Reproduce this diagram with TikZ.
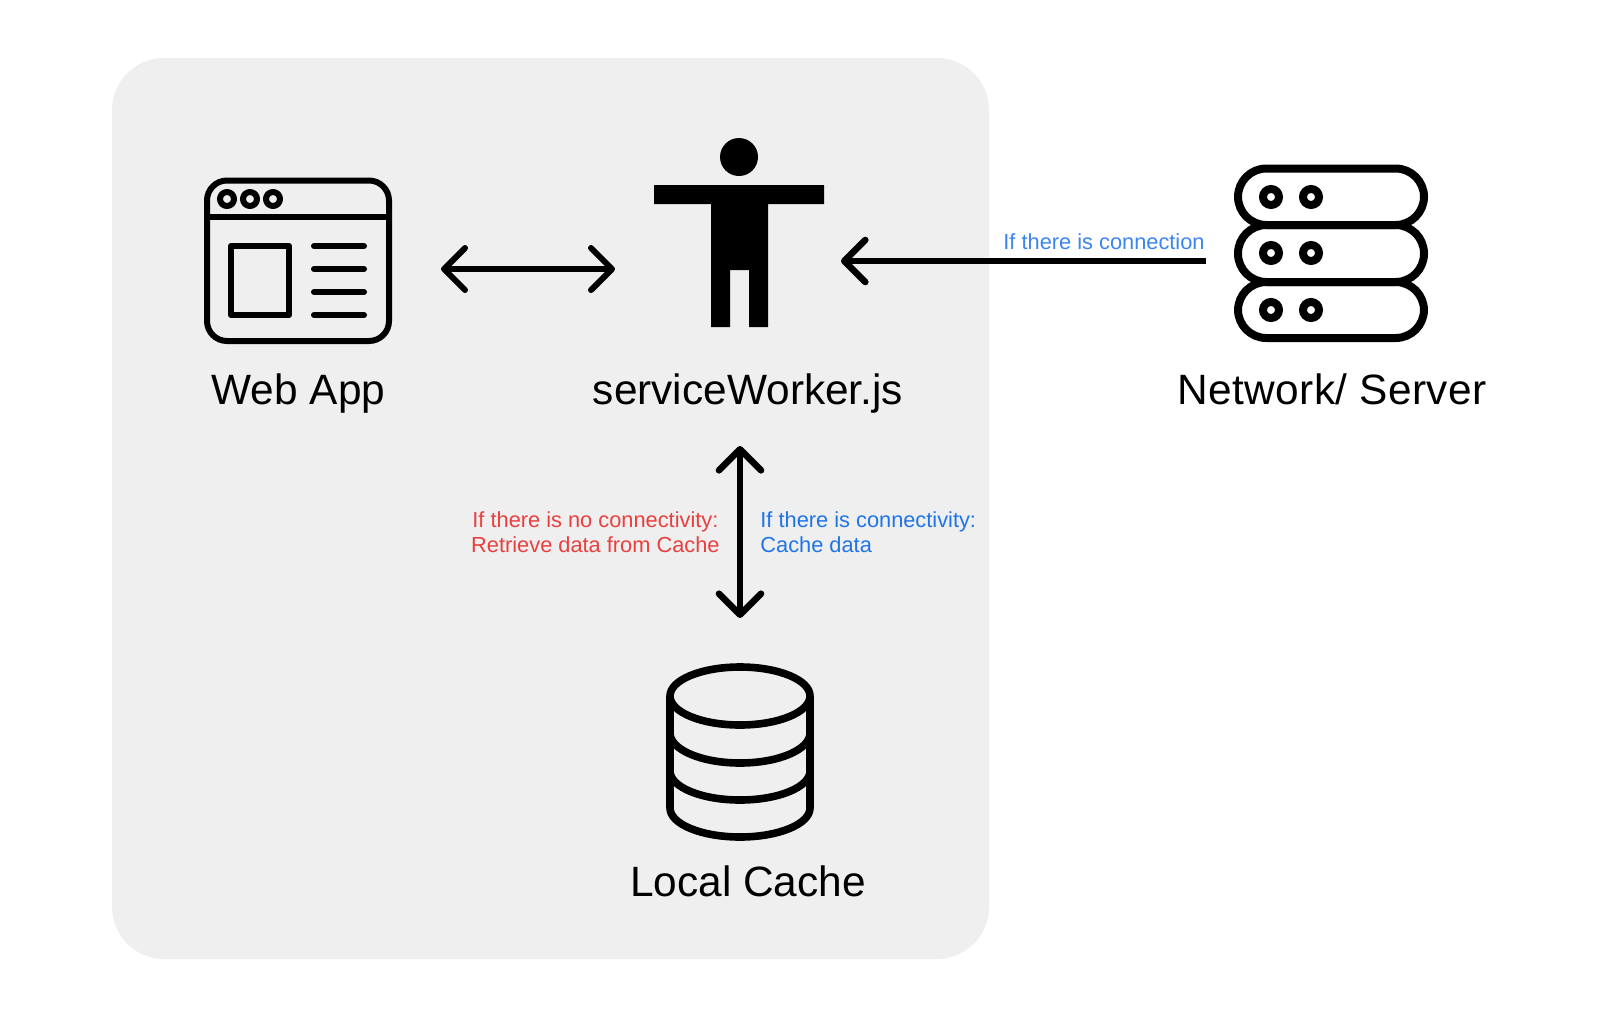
\documentclass[tikz,border=0pt]{standalone}
\usepackage{fontspec}
\setmainfont{Liberation Sans}
\usetikzlibrary{arrows.meta}
\definecolor{panelgrey}{HTML}{EFEFEF}
\definecolor{linkblue}{HTML}{3B86EE}
\definecolor{okblue}{HTML}{1F74E8}
\definecolor{nored}{HTML}{E8403F}
\tikzset{
  x=0.5pt,y=-0.5pt,
  panel/.style={fill=panelgrey,draw=none,rounded corners=26pt},
  bigtitle/.style={inner sep=0pt,anchor=base,font=\fontsize{21.2pt}{24pt}\selectfont,text=black},
  smalltext/.style={inner sep=0pt,font=\fontsize{10.9pt}{12.5pt}\selectfont,align=left},
  iconline/.style={draw=black,line width=3pt,line join=round},
  barb/.tip={Straight Barb[length=10.5pt,width=21pt,round,line width=3pt]},
  thickbarb/.tip={Straight Barb[length=10.5pt,width=21pt,round,line width=3.3pt]},
  conn/.style={draw=black,line width=3pt},
  thickconn/.style={draw=black,line width=3.3pt},
}
\begin{document}
\begin{tikzpicture}
\useasboundingbox[fill=white] (0,0) rectangle (1600,1018);
\path[panel] (112,58) rectangle (989,959);

% Web app icon
\draw[iconline,rounded corners=10pt] (207,180.5) rectangle (389,341);
\draw[iconline] (207,217) -- (389,217);
\foreach \cx in {227,250,273} \draw[iconline] (\cx,199) circle[radius=3.5pt];
\draw[iconline] (231,246) rectangle (289,315);
\foreach \ly in {246,269,292,315} \draw[iconline,line cap=round] (314,\ly) -- (364,\ly);
\node[bigtitle] (webapp) at (298.5,404.5) {Web App};

% service worker figure
\fill[black] (739,157) circle[radius=9.5pt];
\fill[black] (654,185) -- (824,185) -- (824,204) -- (768,204) -- (768,327) -- (749,327) -- (749,270) -- (730,270) -- (730,327) -- (711,327) -- (711,204) -- (654,204) -- cycle;
\node[bigtitle] (sw) at (748,404.5) {serviceWorker.js};

% server icon
\begin{scope}[line width=4pt,draw=black]
  \draw[rounded corners=14.2pt] (1238,168.5) rectangle (1424,225);
  \draw[rounded corners=14.2pt] (1238,225) rectangle (1424,282);
  \draw[rounded corners=14.2pt] (1238,282) rectangle (1424,338);
  \foreach \dy in {197,253,310} {
    \draw (1271,\dy) circle[radius=4pt];
    \draw (1311,\dy) circle[radius=4pt];
  }
\end{scope}
\node[bigtitle] (net) at (1332,404) {\addfontfeature{LetterSpace=1}Network/ Server};

% database icon
\begin{scope}[line width=3.8pt,draw=black]
  \draw (740,696) ellipse[x radius=35pt,y radius=14.5pt];
  \draw (670,696) -- (670,808) arc[start angle=180,end angle=360,x radius=35pt,y radius=14.5pt] -- (810,696);
  \draw (670,733) arc[start angle=180,end angle=360,x radius=35pt,y radius=15pt];
  \draw (670,771) arc[start angle=180,end angle=360,x radius=35pt,y radius=14.5pt];
\end{scope}
\node[bigtitle] (cache) at (748,896) {Local Cache};

% connector ends
\coordinate (webR) at (441,269);
\coordinate (swL) at (615,269);
\coordinate (swR) at (841,261);
\coordinate (srvL) at (1206,261);
\coordinate (swB) at (740,446);
\coordinate (cacheT) at (740,618);

\draw[conn,{barb}-{barb}] (webR) -- (swL);
\draw[thickconn,{thickbarb}-] (swR) -- (srvL);
\draw[thickconn,{thickbarb}-{thickbarb}] (swB) -- (cacheT);

% labels
\node[smalltext,text=linkblue,anchor=base west] (lconn) at (1003,249) {If there is connection};
\node[smalltext,text=nored,anchor=base east,align=center] (lno) at (720,552) {If there is no connectivity:\\Retrieve data from Cache};
\node[smalltext,text=okblue,anchor=base west] (lyes) at (760,552) {If there is connectivity:\\Cache data};
\end{tikzpicture}
\end{document}
